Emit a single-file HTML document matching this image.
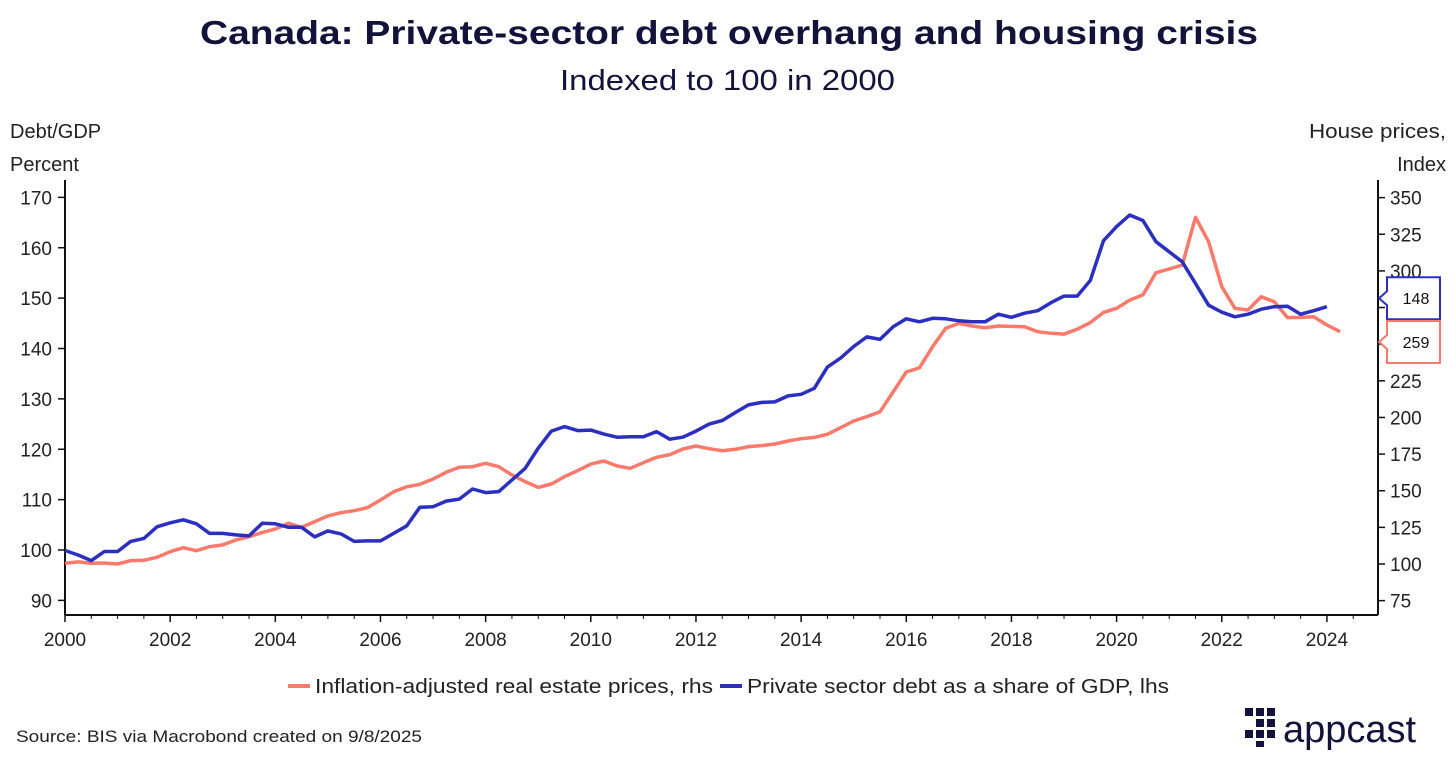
<!DOCTYPE html>
<html><head><meta charset="utf-8"><style>
body{margin:0;background:#fff;width:1456px;height:763px;overflow:hidden;font-family:"Liberation Sans",sans-serif;color:#1a1a3a}
</style></head><body>
<svg width="1456" height="763" xmlns="http://www.w3.org/2000/svg" font-family="Liberation Sans, sans-serif">
<text x="200" y="44" textLength="1058" lengthAdjust="spacingAndGlyphs" font-size="33" font-weight="bold" fill="#12123a">Canada: Private-sector debt overhang and housing crisis</text>
<text x="560" y="90" textLength="335" lengthAdjust="spacingAndGlyphs" font-size="29" fill="#12123a">Indexed to 100 in 2000</text>
<text x="10" y="138" font-size="20" fill="#222">Debt/GDP</text>
<text x="10" y="171" font-size="20" fill="#222">Percent</text>
<text x="1309" y="138" textLength="137" lengthAdjust="spacingAndGlyphs" font-size="20" fill="#222">House prices,</text>
<text x="1446" y="171" text-anchor="end" font-size="20" fill="#222">Index</text>
<g id="axes"></g>
<g id="series"></g>
<g>
<line x1="288" y1="686" x2="310" y2="686" stroke="#f97a6a" stroke-width="4"/>
<text x="315" y="693" textLength="398" lengthAdjust="spacingAndGlyphs" font-size="20" fill="#222">Inflation-adjusted real estate prices, rhs</text>
<line x1="720" y1="686" x2="742" y2="686" stroke="#2b2fc0" stroke-width="4"/>
<text x="747" y="693" textLength="422" lengthAdjust="spacingAndGlyphs" font-size="20" fill="#222">Private sector debt as a share of GDP, lhs</text>
</g>
<text x="16" y="742" textLength="406" lengthAdjust="spacingAndGlyphs" font-size="17" fill="#222">Source: BIS via Macrobond created on 9/8/2025</text>
<g>
<g fill="#12123a">
<rect x="1245" y="708" width="8" height="8"/><rect x="1256" y="708" width="8" height="8"/><rect x="1267" y="708" width="8" height="8"/>
<rect x="1256" y="719" width="8" height="8"/><rect x="1267" y="719" width="8" height="8"/>
<rect x="1245" y="730" width="8" height="8"/><rect x="1256" y="730" width="8" height="8"/><rect x="1267" y="730" width="8" height="8"/>
<rect x="1256" y="741" width="8" height="6"/>
</g>
<text x="1283" y="742" font-size="38" fill="#12123a">appcast</text>
</g>
</svg>
<script>
const startYear = 2000;
const quarterStep = 0.25;
const debtValues = [99.9,99.0,97.9,99.7,99.7,101.7,102.3,104.6,105.4,106.0,105.2,103.3,103.3,103.0,102.8,105.3,105.2,104.5,104.5,102.6,103.8,103.2,101.7,101.8,101.8,103.3,104.8,108.5,108.6,109.7,110.1,112.1,111.4,111.6,113.9,116.2,120.2,123.6,124.5,123.7,123.8,123.0,122.4,122.5,122.5,123.5,122.0,122.4,123.6,125.0,125.7,127.3,128.8,129.3,129.4,130.6,130.9,132.1,136.3,138.1,140.4,142.3,141.8,144.3,145.9,145.3,146.0,145.9,145.5,145.3,145.3,146.8,146.2,147.0,147.5,149.1,150.4,150.4,153.5,161.4,164.2,166.5,165.4,161.2,159.2,157.2,152.9,148.6,147.2,146.3,146.8,147.8,148.3,148.4,146.8,147.5,148.3];
const houseValues = [100.5,101.4,100.5,100.7,100.0,102.3,102.5,104.6,108.4,111.1,109.1,111.8,113.0,116.4,118.6,121.4,123.9,127.8,125.0,128.9,132.8,135.0,136.4,138.4,143.7,149.3,152.7,154.4,158.0,162.6,166.0,166.4,168.7,166.4,160.7,156.2,152.3,154.6,159.6,163.7,168.2,170.3,166.9,165.3,169.1,172.8,174.6,178.5,180.5,178.7,177.3,178.3,180.1,180.8,181.9,183.9,185.5,186.4,188.5,193.0,197.6,200.5,203.9,217.4,231.0,233.9,248.3,260.8,264.2,262.4,261.2,262.4,262.1,261.9,258.5,257.4,256.9,260.2,264.7,271.7,274.5,280.1,283.6,298.8,301.3,304.0,336.6,319.9,289.2,274.5,273.3,282.4,279.0,268.1,268.3,268.7,263.1,258.5];
const leftTicks = [90,100,110,120,130,140,150,160,170];
const rightTicks = [75,100,125,150,175,200,225,250,275,300,325,350];
const xTicks = [2000,2002,2004,2006,2008,2010,2012,2014,2016,2018,2020,2022,2024];
const debtLast = 148, houseLast = 259;

const X0=65,X1=1378,YB=615;
const xs = y => 65 + (y-2000)*52.58;
const yl = v => 550 - (v-100)*5.0375;
const yr = v => 564 - (v-100)*1.4655;
const NS="http://www.w3.org/2000/svg";
function mk(tag, attrs, parent){const e=document.createElementNS(NS,tag);for(const k in attrs)e.setAttribute(k,attrs[k]);parent.appendChild(e);return e;}
const ax=document.getElementById('axes'), se=document.getElementById('series');
let e;
e=mk('line',{x1:X0,y1:180,x2:X0,y2:YB,stroke:'#111','stroke-width':2},ax);


e=mk('line',{x1:X1,y1:180,x2:X1,y2:YB,stroke:'#111','stroke-width':2},ax);


e=mk('line',{x1:X0,y1:YB,x2:X1,y2:YB,stroke:'#111','stroke-width':2},ax);


leftTicks.forEach(t=>{const y=yl(t);mk('line',{x1:X0-7,y1:y,x2:X0,y2:y,stroke:'#111','stroke-width':1.5},ax);
 e=mk('text',{x:X0-13,y:y+7,'text-anchor':'end','font-size':19,fill:'#222'},ax);e.textContent=t;
 
 });
rightTicks.forEach(t=>{const y=yr(t);mk('line',{x1:X1,y1:y,x2:X1+7,y2:y,stroke:'#111','stroke-width':1.5},ax);
 e=mk('text',{x:X1+12,y:y+7,'font-size':19,fill:'#222'},ax);e.textContent=t;
 
 });
xTicks.forEach(t=>{const x=xs(t);mk('line',{x1:x,y1:YB,x2:x,y2:YB+7,stroke:'#111','stroke-width':1.5},ax);
 for(let q=1;q<4;q++){ if(t+q*0.5<=2024.9){const xm=xs(t+q*0.5);mk('line',{x1:xm,y1:YB,x2:xm,y2:YB+4,stroke:'#111','stroke-width':1},ax);} }
 e=mk('text',{x:x,y:YB+31,'text-anchor':'middle','font-size':19,fill:'#222'},ax);e.textContent=t;
 
 });
function path(vals,f){return vals.map((v,i)=>(i?'L':'M')+xs(startYear+i*quarterStep).toFixed(1)+','+f(v).toFixed(1)).join('');}
e=mk('path',{d:path(houseValues,yr),fill:'none',stroke:'#f97a6a','stroke-width':3.5,'stroke-linejoin':'round'},se);


e=mk('path',{d:path(debtValues,yl),fill:'none',stroke:'#2b2fc0','stroke-width':3.5,'stroke-linejoin':'round'},se);


function callout(v,y,col,name){const g=mk('g',{},se);
 mk('path',{d:`M${X1+1},${y} L${X1+9},${y-7} L${X1+9},${y-21} L1440,${y-21} L1440,${y+21} L${X1+9},${y+21} L${X1+9},${y+7} Z`,fill:'#fff',stroke:col,'stroke-width':2},g);
 const t=mk('text',{x:1416,y:y+6,'text-anchor':'middle','font-size':16,fill:'#111'},g);t.textContent=v;
 
 }
callout(debtLast,yl(debtLast)-10,'#2b2fc0','debt-last-value');
callout(houseLast,yr(houseLast)+11,'#f97a6a','house-last-value');
</script>
</body></html>
